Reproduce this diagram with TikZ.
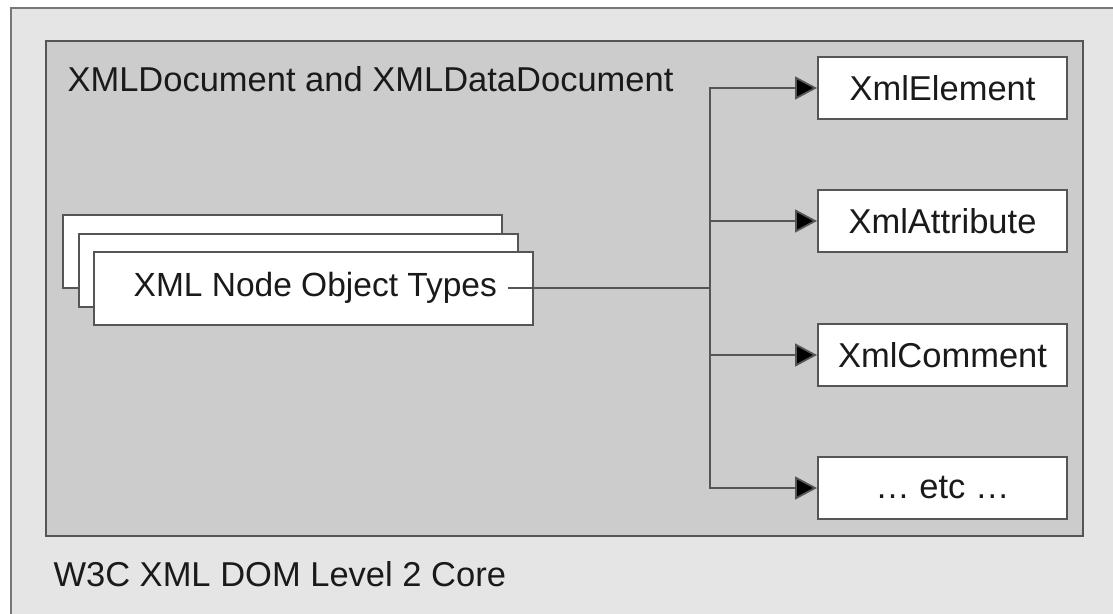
\documentclass[tikz,border=0pt]{standalone}
\usepackage{fontspec}
\setmainfont{Liberation Sans}
\usetikzlibrary{arrows.meta}
\definecolor{outerfill}{HTML}{E5E5E5}
\definecolor{innerfill}{HTML}{CCCCCC}
\definecolor{edge}{HTML}{555555}
\definecolor{ink}{HTML}{1A1A1A}
\tikzset{
  txt/.style={font=\fontsize{34.5}{40}\selectfont, text=ink},
  wbox/.style={txt, draw=edge, line width=2pt, fill=white, inner sep=0pt},
  rbox/.style={wbox, minimum width=249pt, minimum height=62pt},
  sbox/.style={wbox, minimum width=439pt, minimum height=73pt},
  conn/.style={draw=edge, line width=1.8pt},
  arr/.style={conn, -{Triangle[length=22pt,width=23pt,fill=black]}}
}
\begin{document}
\begin{tikzpicture}[x=1pt,y=-1pt]
\useasboundingbox (0,0) rectangle (1113,613);
\begin{scope}
\clip (0,0) rectangle (1113,613);
\fill[white] (0,0) rectangle (1113,613);
\draw[draw=edge!80, line width=2pt, fill=outerfill] (11,8) rectangle (1130,630);
\end{scope}
\draw[draw=edge, line width=2.5pt, fill=innerfill] (46,41) rectangle (1083,536);
\node[txt, anchor=base west] (title) at (64,91) {XMLDocument and XMLDataDocument};
\node[txt, anchor=base west] (w3c) at (50,586) {W3C XML DOM Level 2 Core};
% stacked boxes
\node[sbox] (back1) at (282,251.5) {};
\node[sbox] (back2) at (298,270) {};
\node[sbox] (front) at (313.5,288) {};
\node[txt, font=\fontsize{33.5}{40}\selectfont, inner sep=0pt, anchor=east] (types) at (497,288) {XML Node Object Types};
\coordinate (lstart) at (508,288);
% right boxes
\node[rbox] (b1) at (942.5,88) {XmlElement};
\node[rbox] (b2) at (942.5,221) {XmlAttribute};
\node[rbox] (b3) at (942.5,355) {XmlComment};
\node[rbox] (b4) at (942.5,488) {\dots\ etc \dots};
\coordinate (j) at (710,288);
\draw[conn] (lstart) -- (j);
\draw[arr] (j) |- (b1.west);
\draw[arr] (j) |- (b2.west);
\draw[arr] (j) |- (b3.west);
\draw[arr] (j) |- (b4.west);
\end{tikzpicture}
\end{document}
